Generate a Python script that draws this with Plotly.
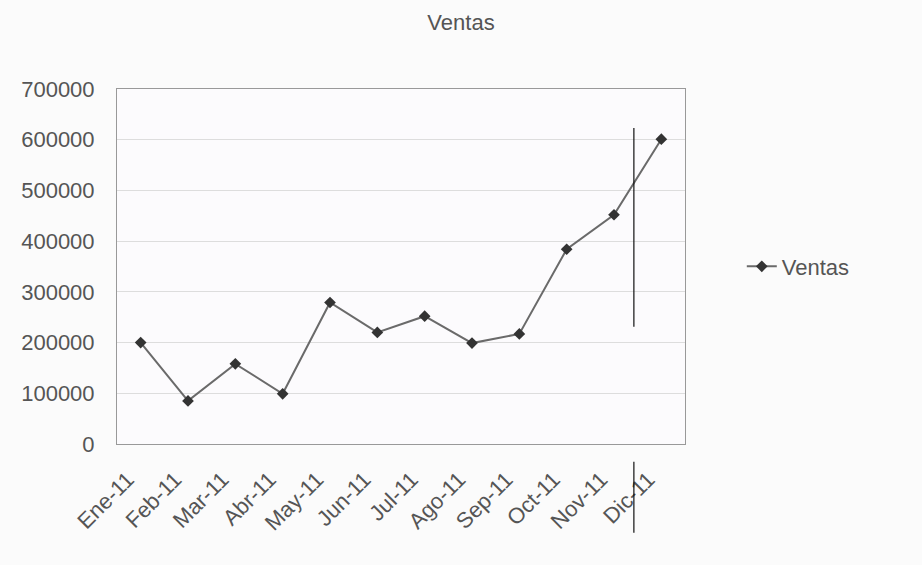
import plotly.graph_objects as go

months = ["Ene-11", "Feb-11", "Mar-11", "Abr-11", "May-11", "Jun-11",
          "Jul-11", "Ago-11", "Sep-11", "Oct-11", "Nov-11", "Dic-11"]
ventas = [200000, 85000, 158000, 99000, 279000, 220000,
          252000, 199000, 217000, 384000, 452000, 601000]
y_ticks = [0, 100000, 200000, 300000, 400000, 500000, 600000, 700000]

FONT = "Liberation Sans, Arial, sans-serif"
TXT = "#555555"
PAD = "\u00a0" * 3

fig = go.Figure()
fig.add_trace(go.Scatter(
    x=months, y=ventas, name="Ventas", mode="lines+markers",
    line=dict(color="#6a6a6a", width=2),
    marker=dict(symbol="diamond", size=9, color="#333333"),
))

fig.update_layout(
    width=922, height=565,
    margin=dict(l=117, r=237, t=89, b=121),
    paper_bgcolor="#fbfbfb", plot_bgcolor="#fcfbfd",
    title=dict(text="Ventas", x=0.5, xanchor="center", y=0.96, yanchor="middle",
               font=dict(family=FONT, size=22, color=TXT)),
    font=dict(family=FONT, size=22, color=TXT),
    showlegend=True,
    legend=dict(x=1.1, y=0.5, xanchor="left", yanchor="middle",
                font=dict(family=FONT, size=22, color=TXT),
                bgcolor="rgba(0,0,0,0)", borderwidth=0),
    xaxis=dict(type="category", range=[-0.5, 11.5], tickangle=-45,
               tickvals=months, ticktext=[m + PAD for m in months],
               showgrid=False, showline=True, linecolor="#999999", linewidth=1,
               mirror=True, ticks="", tickfont=dict(family=FONT, size=22, color=TXT)),
    yaxis=dict(range=[0, 700000], tickvals=y_ticks, ticktext=[str(v) for v in y_ticks],
               showgrid=True, gridcolor="#dddddd", gridwidth=1,
               showline=True, linecolor="#999999", linewidth=1, mirror=True,
               zeroline=False, ticks="", ticklen=0, ticklabelstandoff=17,
               tickfont=dict(family=FONT, size=22, color=TXT)),
)

# scan artefact: thin dark vertical line segments
for y0, y1 in [(0.33, 0.89), (-0.25, -0.05)]:
    fig.add_shape(type="line", xref="paper", yref="paper",
                  x0=0.91, x1=0.91, y0=y0, y1=y1,
                  line=dict(color="#111111", width=1.2))

fig.write_html("out.html")
